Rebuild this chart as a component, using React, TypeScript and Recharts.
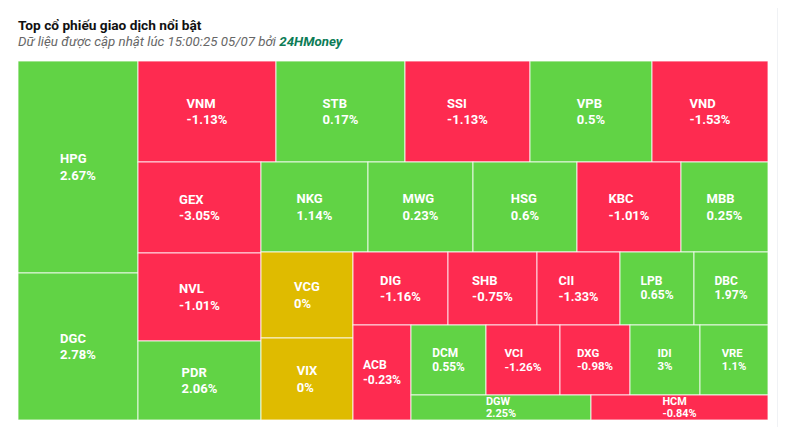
import React from 'react';
import { Treemap } from 'recharts';

// Giá trị giao dịch (tỷ đồng, ước lượng theo diện tích ô) và % thay đổi giá
const tickers = [
  'HPG', 'DGC', 'VNM', 'STB', 'SSI', 'VPB', 'VND', 'GEX', 'NVL', 'PDR',
  'NKG', 'MWG', 'HSG', 'KBC', 'MBB', 'VCG', 'VIX', 'DIG', 'SHB', 'CII',
  'LPB', 'DBC', 'ACB', 'DCM', 'VCI', 'DXG', 'IDI', 'VRE', 'DGW', 'HCM',
];
const tradeValues = [
  1272, 882, 699, 651, 629, 618, 584, 562, 539, 486,
  480, 471, 470, 466, 395, 393, 377, 350, 326, 303,
  272, 270, 274, 261, 257, 246, 246, 236, 226, 221,
];
const priceChanges = [
  2.67, 2.78, -1.13, 0.17, -1.13, 0.5, -1.53, -3.05, -1.01, 2.06,
  1.14, 0.23, 0.6, -1.01, 0.25, 0, 0, -1.16, -0.75, -1.33,
  0.65, 1.97, -0.23, 0.55, -1.26, -0.98, 3, 1.1, 2.25, -0.84,
];

// nhóm ô: seq = xếp lần lượt, band = các phần tử chung một dải
type Block = string | { band?: boolean; items: Block[] };
const seq = (...items: Block[]): Block => ({ items });
const band = (...items: Block[]): Block => ({ band: true, items });

const blocks = seq(
  seq('HPG', 'DGC'),
  band(
    seq('VNM', 'STB', 'SSI', 'VPB', 'VND'),
    seq(
      seq('GEX', 'NVL', 'PDR'),
      band(
        seq('NKG', 'MWG', 'HSG', 'KBC', 'MBB'),
        seq(
          seq('VCG', 'VIX'),
          band(
            seq('DIG', 'SHB', 'CII', 'LPB', 'DBC'),
            seq('ACB', band(seq('DCM', 'VCI', 'DXG', 'IDI', 'VRE'), seq('DGW', 'HCM'))),
          ),
        ),
      ),
    ),
  ),
);

function build(block: Block): any {
  if (typeof block === 'string') {
    const i = tickers.indexOf(block);
    return { name: block, value: tradeValues[i], change: priceChanges[i] };
  }
  const children = block.items.map(build);
  // nút rỗng đứng đầu giữ mọi phần tử trên cùng một dải
  return { name: '', children: block.band ? [{ name: '', value: 0, spacer: true }, ...children] : children };
}

const treeData = (blocks as { items: Block[] }).items.map(build);

const UP = '#61d345';
const DOWN = '#fe2b50';
const FLAT = '#dfbb00';

const ctx = typeof document !== 'undefined' ? document.createElement('canvas').getContext('2d') : null;
function textWidth(text: string, size: number) {
  if (!ctx) return text.length * size * 0.6;
  ctx.font = `700 ${size}px Roboto`;
  return ctx.measureText(text).width;
}

function Tile(props: any) {
  const { x, y, width, height, name, change, children, spacer } = props;
  if ((children && children.length) || spacer || !name || width <= 0 || height <= 0) return null;
  const fill = change > 0 ? UP : change < 0 ? DOWN : FLAT;
  const fs = Math.min(13, Math.sqrt(width * height) / 6.1);
  const pct = `${change}%`;
  const w = Math.max(textWidth(name, fs), textWidth(pct, fs));
  const tx = x + width / 2 - w / 2;
  const cy = y + height / 2;
  const gap = fs * 1.28 - (13 - fs);
  return (
    <g>
      <rect x={x} y={y} width={width} height={height} fill={fill} stroke="rgba(255,255,255,0.8)" strokeWidth={1} />
      <text x={tx} y={cy - gap * 0.24} fill="#fff" fontSize={fs} fontWeight={700} fontFamily="Roboto">
        {name}
      </text>
      <text x={tx} y={cy + gap * 0.76} fill="#fff" fontSize={fs} fontWeight={700} fontFamily="Roboto">
        {pct}
      </text>
    </g>
  );
}

export default function App() {
  return (
    <div
      style={{
        position: 'relative',
        width: 786,
        height: 435,
        margin: -8,
        background: '#f0f2f5',
        overflow: 'hidden',
        fontFamily: 'Roboto, sans-serif',
      }}
    >
      <div style={{ position: 'absolute', left: 3, top: 4, width: 774, height: 445, background: '#fff' }} />
      <div style={{ position: 'absolute', left: 18, top: 16.5, fontSize: 13.7, fontWeight: 700, color: '#111' }}>
        Top cổ phiếu giao dịch nổi bật
      </div>
      <div style={{ position: 'absolute', left: 18, top: 34.3, fontSize: 13.3, fontStyle: 'italic', color: '#666' }}>
        Dữ liệu được cập nhật lúc 15:00:25 05/07 bởi{' '}
        <span style={{ color: '#0c7c56', fontWeight: 700 }}>24HMoney</span>
      </div>
      <div style={{ position: 'absolute', left: 18, top: 61 }}>
        <Treemap
          width={750}
          height={359}
          data={treeData}
          dataKey="value"
          nameKey="name"
          aspectRatio={0.000001}
          isAnimationActive={false}
          content={<Tile />}
        />
      </div>
    </div>
  );
}
